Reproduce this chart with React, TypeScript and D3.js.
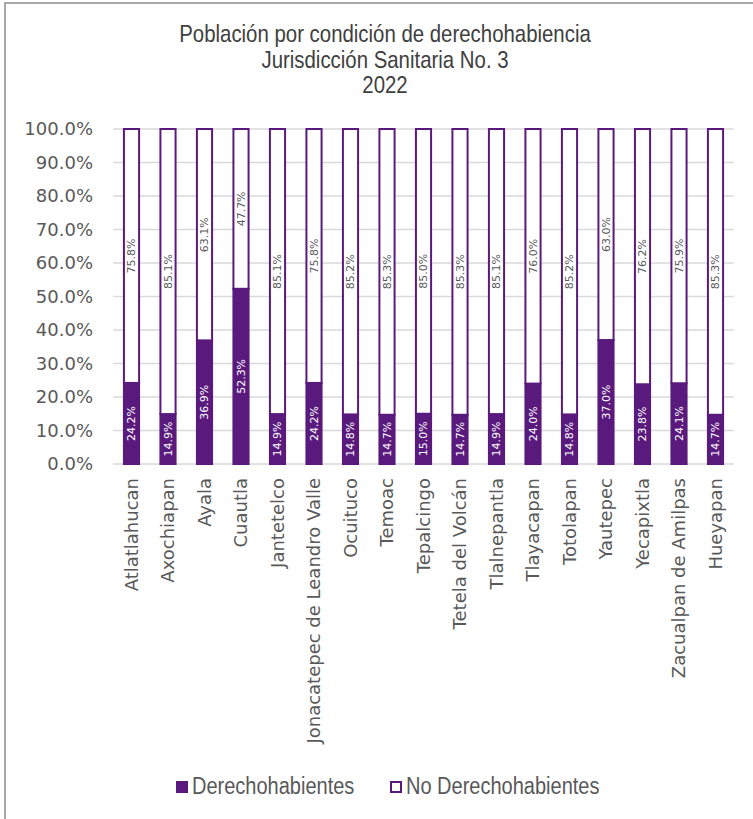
import * as d3 from 'd3';

const municipios = [
  'Atlatlahucan', 'Axochiapan', 'Ayala', 'Cuautla', 'Jantetelco',
  'Jonacatepec de Leandro Valle', 'Ocuituco', 'Temoac', 'Tepalcingo',
  'Tetela del Volcán', 'Tlalnepantla', 'Tlayacapan', 'Totolapan',
  'Yautepec', 'Yecapixtla', 'Zacualpan de Amilpas', 'Hueyapan',
];
const derechohabientes = [24.2, 14.9, 36.9, 52.3, 14.9, 24.2, 14.8, 14.7, 15.0, 14.7, 14.9, 24.0, 14.8, 37.0, 23.8, 24.1, 14.7];
const noDerechohabientes = [75.8, 85.1, 63.1, 47.7, 85.1, 75.8, 85.2, 85.3, 85.0, 85.3, 85.1, 76.0, 85.2, 63.0, 76.2, 75.9, 85.3];
const yTicks = [0, 10, 20, 30, 40, 50, 60, 70, 80, 90, 100];
const titleLines = ['Población por condición de derechohabiencia', 'Jurisdicción Sanitaria No. 3', '2022'];

const purple = '#5a1a7d';
const axisFont = '"DejaVu Sans", sans-serif';
// no narrow font installed, so squeeze Liberation Sans horizontally
const narrowFont = '"Liberation Sans", Arial, sans-serif';

export default function App() {
  const width = 753;
  const height = 819;
  const x = d3.scaleBand<string>().domain(municipios).range([113.25, 733.75]).paddingInner(0.53).paddingOuter(0.265);
  const y = d3.scaleLinear().domain([0, 100]).range([464, 129]);
  const bw = x.bandwidth();

  return (
    <svg width={width} height={height} style={{ position: 'absolute', left: 0, top: 0, background: '#fff' }}>
      <rect x={5} y={3} width={800} height={900} fill="#fff" stroke="#8c8c8c" strokeWidth={1.5} />

      {titleLines.map((t, i) => (
        <text key={t} transform={`translate(385,${42 + i * 25.5}) scale(0.85,1)`} textAnchor="middle"
          fontFamily={narrowFont} fontSize={24} fill="#404040">
          {t}
        </text>
      ))}

      {yTicks.map((t) => (
        <g key={t}>
          <line x1={113.25} x2={733.75} y1={y(t)} y2={y(t)} stroke="#d9d9d9" strokeWidth={1.5} />
          <text x={93} y={y(t)} dy="0.36em" textAnchor="end" fontFamily={axisFont} fontSize={18} fill="#595959">
            {t.toFixed(1)}%
          </text>
        </g>
      ))}

      {municipios.map((m, i) => {
        const x0 = x(m)!;
        const cx = x0 + bw / 2;
        const d = derechohabientes[i];
        const n = noDerechohabientes[i];
        return (
          <g key={m}>
            <rect x={x0 + 1} y={y(d)} width={bw - 2} height={y(0) - y(d)} fill={purple} stroke={purple} strokeWidth={2} />
            <rect x={x0 + 1} y={y(d + n)} width={bw - 2} height={y(d) - y(d + n)} fill="#fff" stroke={purple} strokeWidth={2} />
            <text transform={`translate(${cx},${(y(0) + y(d)) / 2}) rotate(-90)`} dy="0.35em" textAnchor="middle"
              fontFamily={axisFont} fontSize={11} fill="#fff">
              {d.toFixed(1)}%
            </text>
            <text transform={`translate(${cx},${(y(d) + y(d + n)) / 2}) rotate(-90)`} dy="0.35em" textAnchor="middle"
              fontFamily={axisFont} fontSize={11} fill="#595959">
              {n.toFixed(1)}%
            </text>
            <text transform={`translate(${cx},478) rotate(-90)`} dy="0.35em" textAnchor="end"
              fontFamily={axisFont} fontSize={18} fill="#595959">
              {m}
            </text>
          </g>
        );
      })}

      <rect x={176} y={781} width={12} height={12} fill={purple} />
      <text transform="translate(192,794) scale(0.87,1)" fontFamily={narrowFont} fontSize={23} fill="#595959">
        Derechohabientes
      </text>
      <rect x={391} y={782} width={10} height={10} fill="#fff" stroke={purple} strokeWidth={2} />
      <text transform="translate(406,794) scale(0.87,1)" fontFamily={narrowFont} fontSize={23} fill="#595959">
        No Derechohabientes
      </text>
    </svg>
  );
}
